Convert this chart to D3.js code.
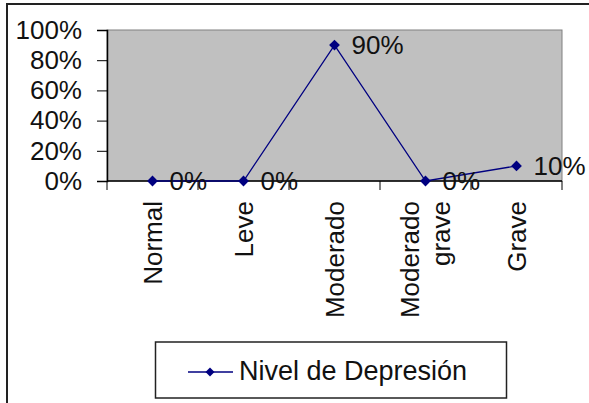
<!doctype html>
<html>
<head>
<meta charset="utf-8">
<style>
    body { margin: 0; background: #fff; }
    text { font-family: "Liberation Sans", Arial, sans-serif; fill: #111; }
</style>
</head>
<body>
<div class="chart"></div>
<script src="https://d3js.org/d3.v7.min.js"></script>
<script>

    let categories = [['Normal'], ['Leve'], ['Moderado'], ['Moderado', 'grave'], ['Grave']];
    let values = [0, 0, 0.9, 0, 0.1];
    let yTicks = [0, 0.2, 0.4, 0.6, 0.8, 1];
    let seriesName = 'Nivel de Depresión';

    let width = 589;
    let height = 403;
    let plot = {left: 107, top: 30, right: 562, bottom: 181};
    let fontSize = 26;
    let navy = '#000080';

    let svg = d3.select('.chart').append('svg')
        .attr('width', width)
        .attr('height', height);

    // outer frame (only top and left visible in the picture)
    svg.append('path')
        .attr('d', `M7,${height} L7,4 L${width},4`)
        .attr('fill', 'none')
        .attr('stroke', '#222')
        .attr('stroke-width', 2);

    let x = d3.scaleBand()
        .domain(d3.range(categories.length))
        .range([plot.left, plot.right]);

    let y = d3.scaleLinear()
        .domain([0, 1])
        .range([plot.bottom, plot.top]);

    // plot area
    svg.append('rect')
        .attr('x', plot.left)
        .attr('y', plot.top)
        .attr('width', plot.right - plot.left)
        .attr('height', plot.bottom - plot.top)
        .attr('fill', '#c0c0c0')
        .attr('stroke', '#808080')
        .attr('stroke-width', 1);

    // y axis
    let yAxis = svg.append('g')
        .attr('transform', `translate(${plot.left},0)`)
        .call(d3.axisLeft(y).tickValues(yTicks).tickFormat(d3.format('.0%')).tickSize(10).tickPadding(15));
    yAxis.select('.domain').attr('stroke', '#000').attr('stroke-width', 1.5);
    yAxis.selectAll('.tick line').attr('stroke', '#000');
    yAxis.selectAll('text')
        .style('font-size', fontSize + 'px')
        .attr('font-family', null)
        .attr('fill', null);

    // x axis line + ticks between categories
    let xg = svg.append('g');
    xg.append('line')
        .attr('x1', plot.left).attr('x2', plot.right)
        .attr('y1', plot.bottom).attr('y2', plot.bottom)
        .attr('stroke', '#000').attr('stroke-width', 1.5);
    xg.selectAll('.xtick')
        .data(d3.range(categories.length + 1))
        .join('line')
        .attr('class', 'xtick')
        .attr('x1', (d) => plot.left + d * x.bandwidth())
        .attr('x2', (d) => plot.left + d * x.bandwidth())
        .attr('y1', plot.bottom)
        .attr('y2', plot.bottom + 9)
        .attr('stroke', '#000');

    // category labels, rotated
    let labels = xg.selectAll('.xlabel')
        .data(categories)
        .join('text')
        .attr('class', 'xlabel')
        .attr('text-anchor', 'end')
        .style('font-size', fontSize + 'px')
        .attr('transform', (d, i) => `translate(${x(i) + x.bandwidth() / 2},201) rotate(-90)`);
    labels.selectAll('tspan')
        .data((d) => d.map((t, j) => ({t: t, j: j, n: d.length})))
        .join('tspan')
        .attr('x', 0)
        .attr('y', (d) => (d.j - (d.n - 1) / 2) * 31)
        .attr('dy', '0.35em')
        .text((d) => d.t);

    // series line
    let line = d3.line()
        .x((d, i) => x(i) + x.bandwidth() / 2)
        .y((d) => y(d));

    svg.append('path')
        .datum(values)
        .attr('d', line)
        .attr('fill', 'none')
        .attr('stroke', navy)
        .attr('stroke-width', 1.3);

    // diamond marker: square turned 45 degrees
    let diamond = d3.symbol().type(d3.symbolSquare).size(58);

    svg.selectAll('.marker')
        .data(values)
        .join('path')
        .attr('class', 'marker')
        .attr('d', diamond)
        .attr('transform', (d, i) => `translate(${x(i) + x.bandwidth() / 2},${y(d)}) rotate(45)`)
        .attr('fill', navy);

    // data labels
    svg.selectAll('.dlabel')
        .data(values)
        .join('text')
        .attr('class', 'dlabel')
        .attr('x', (d, i) => x(i) + x.bandwidth() / 2 + 17)
        .attr('y', (d) => y(d))
        .attr('dy', '0.36em')
        .style('font-size', fontSize + 'px')
        .text((d) => d3.format('.0%')(d));

    // legend
    let legend = svg.append('g');
    legend.append('rect')
        .attr('x', 155.5).attr('y', 342)
        .attr('width', 351).attr('height', 56)
        .attr('fill', '#fff')
        .attr('stroke', '#222')
        .attr('stroke-width', 1.5);
    legend.append('line')
        .attr('x1', 188).attr('x2', 233)
        .attr('y1', 372).attr('y2', 372)
        .attr('stroke', navy).attr('stroke-width', 1.3);
    legend.append('path')
        .attr('d', d3.symbol().type(d3.symbolSquare).size(40))
        .attr('transform', 'translate(210,372) rotate(45)')
        .attr('fill', navy);
    legend.append('text')
        .attr('x', 239).attr('y', 370)
        .attr('dy', '0.36em')
        .style('font-size', '27px')
        .text(seriesName);

</script>
</body>
</html>
